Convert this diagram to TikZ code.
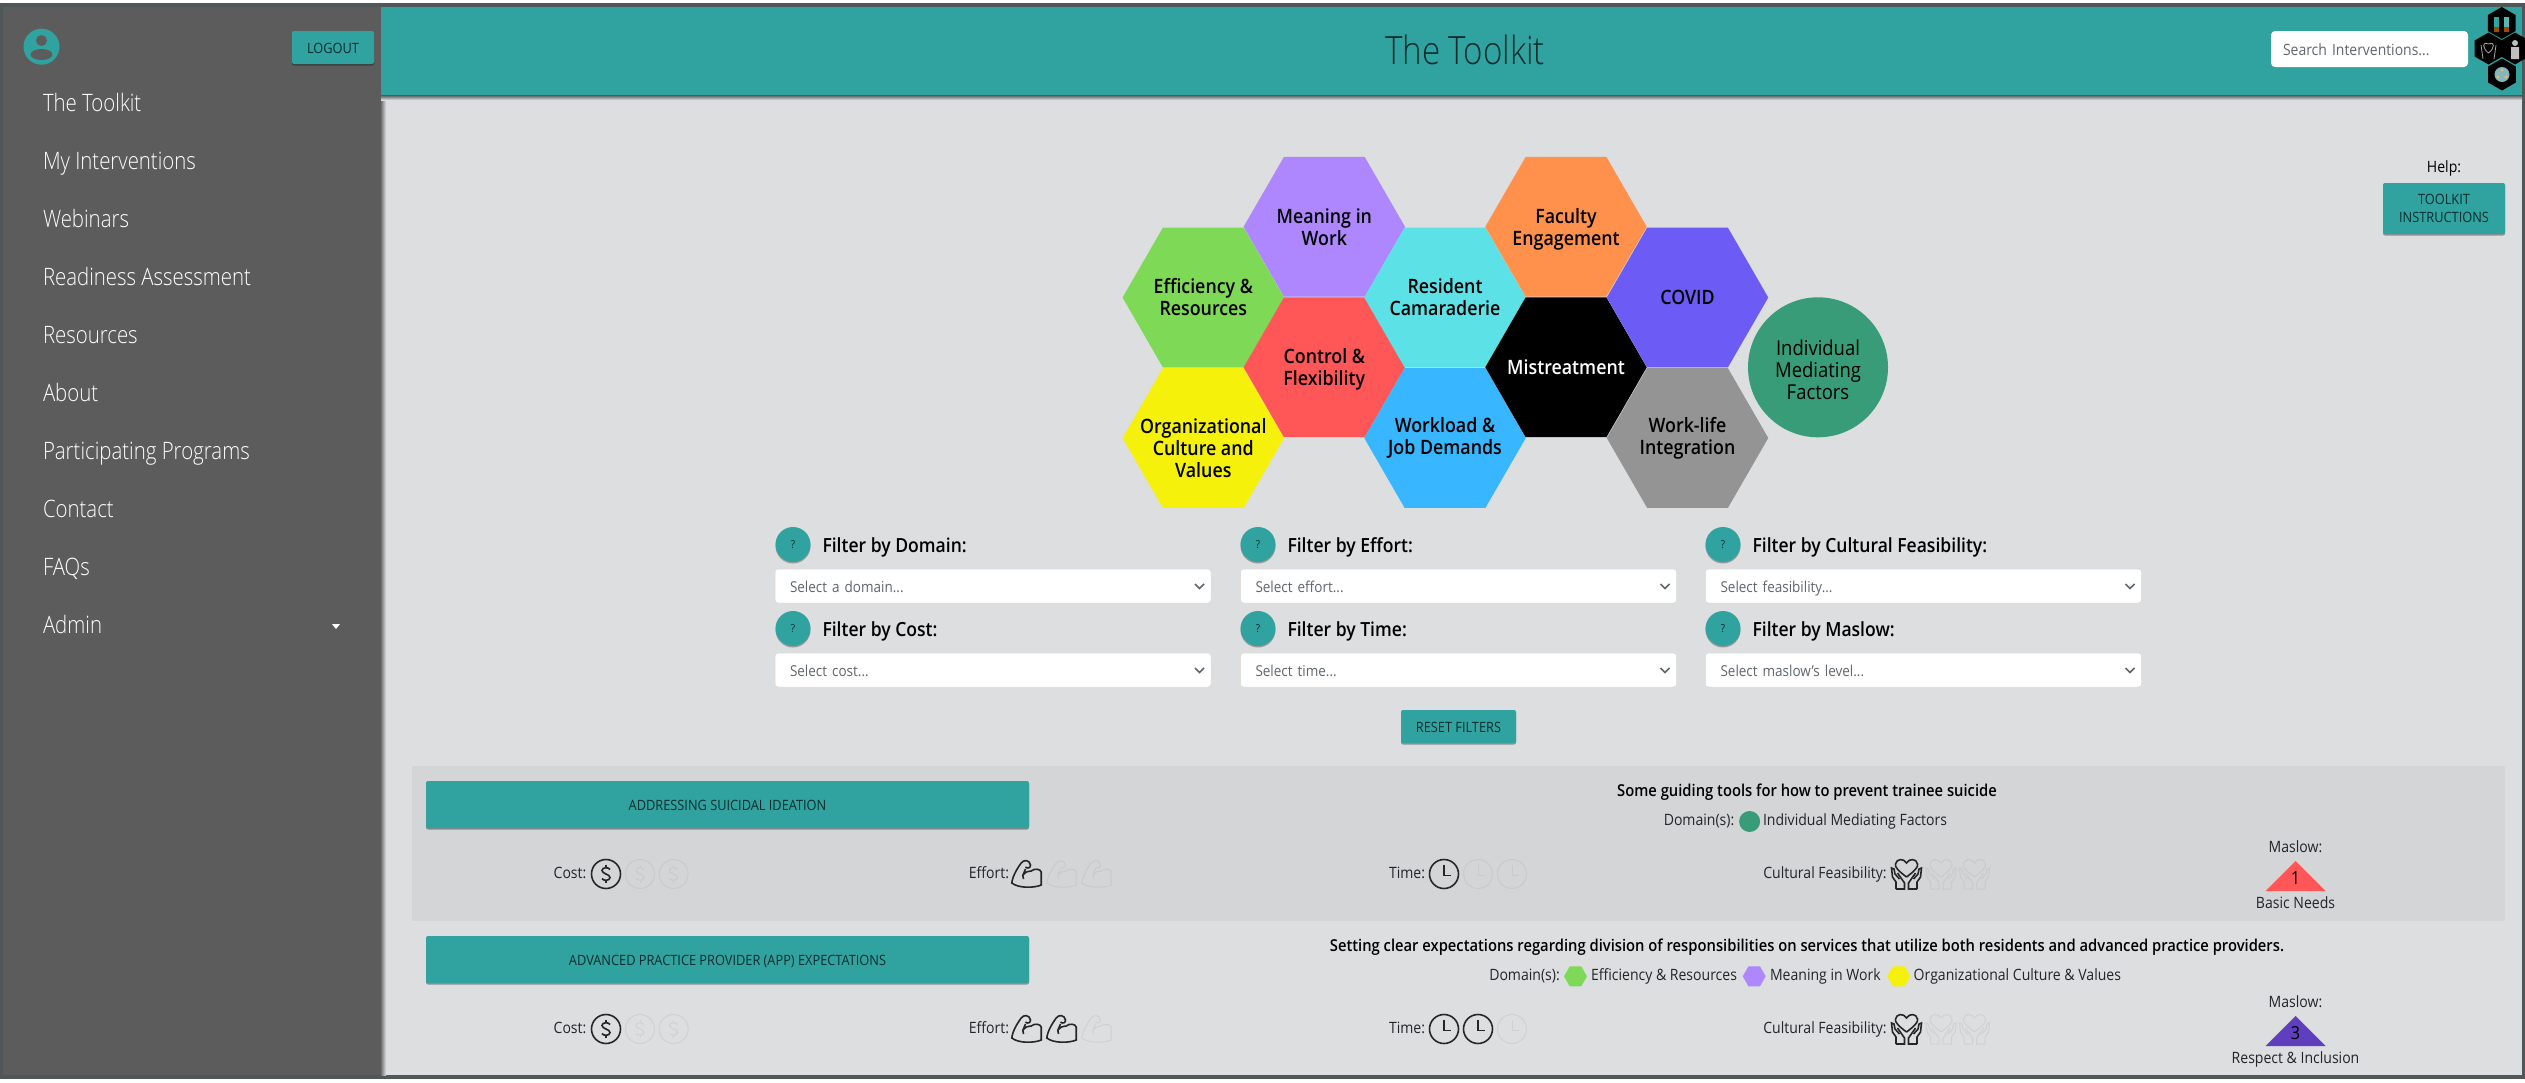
\documentclass[tikz,border=0pt]{standalone}
\usepackage{fontspec}
\setmainfont[FakeStretch=0.9]{Open Sans}
\newfontfamily\lightfont[FakeStretch=0.85]{Open Sans Light}
\newfontfamily\semifont[FakeStretch=0.9]{Open Sans Semibold}
\usetikzlibrary{positioning, shapes.geometric, shadows}
\definecolor{pagebg}{HTML}{DCDEE0}
\definecolor{rowbg}{HTML}{D3D5D7}
\definecolor{framedark}{HTML}{4F5759}
\definecolor{sidegray}{HTML}{5C5C5C}
\definecolor{tealbar}{HTML}{30A3A0}
\definecolor{inktext}{HTML}{212529}
\definecolor{btntext}{HTML}{0B2E2E}
\definecolor{hintgray}{HTML}{5F666C}
\definecolor{color1}{HTML}{AE87FF}
\definecolor{color2}{HTML}{7ED957}
\definecolor{color3}{HTML}{F5F10A}
\definecolor{color4}{HTML}{FF5757}
\definecolor{color5}{HTML}{5CE1E6}
\definecolor{color6}{HTML}{38B6FF}
\definecolor{color7}{HTML}{FF914D}
\definecolor{color8}{HTML}{6C5CF5}
\definecolor{color9}{HTML}{949494}
\definecolor{color10}{HTML}{389C79}
\definecolor{color11}{HTML}{5E3FBE}
\definecolor{offrow}{HTML}{C8CACC}
\definecolor{offplain}{HTML}{CFD1D3}

\begin{document}
\begin{tikzpicture}[x=1pt,y=-1pt,font=\fontsize{15.6}{20}\selectfont,inner sep=0,outer sep=0]

    \useasboundingbox (0,0) rectangle (2525,1082);

    \tikzset{
    % Hexagon cells of the domain map and the buttons
    domainhex/.style={regular polygon, regular polygon sides=6, minimum size=161.5, inner sep=-14pt, align=center, text=black, font=\semifont\fontsize{19.8}{22}\selectfont},
    smallhex/.style={regular polygon, regular polygon sides=6, minimum size=23},
    logohex/.style={regular polygon, regular polygon sides=6, shape border rotate=30, minimum size=32, fill=black},
    tealbtn/.style={rectangle, fill=tealbar, rounded corners=2, align=center, text=btntext, font=\fontsize{14.2}{18}\selectfont, drop shadow={shadow xshift=0pt, shadow yshift=-1.5pt, opacity=.35, fill=black}},
    oneline/.style={text height=12, text depth=0pt},
    sideitem/.style={anchor=west, text=white, text height=19, text depth=0pt, font=\lightfont\fontsize{24}{28}\selectfont},
    helpdot/.style={circle, fill=tealbar, minimum size=35, text=btntext, font=\fontsize{11}{12}\selectfont, drop shadow={shadow xshift=0pt, shadow yshift=-1.5pt, opacity=.3, fill=black}},
    filterlabel/.style={text=black, text height=15, text depth=0pt, font=\semifont\fontsize{19.5}{22}\selectfont},
    selectbox/.style={rectangle, fill=white, draw=black!15, line width=.5, rounded corners=3, minimum height=34, text height=13, text depth=0pt, text width=406, inner xsep=15, align=left, text=hintgray, font=\fontsize{15}{18}\selectfont},
    chevron/.style={draw=hintgray, line width=1.6},
    rowtext/.style={text=inktext, text height=11, text depth=0pt, font=\fontsize{15.6}{20}\selectfont},
    rowtitle/.style={text=black, text height=12, text depth=0pt, font=\semifont\fontsize{16.4}{20}\selectfont},
    % Icons of a row, drawn around their centre
    pics/costicon/.style={code={
        \draw[#1] (0,0) circle[radius=14.5];
        \draw[#1] (4,-4.5) .. controls (3,-7) and (-4,-7) .. (-4,-3.5) .. controls (-4,0) and (4,0) .. (4,3.5) .. controls (4,7) and (-3,7) .. (-4,4.5);
        \draw[#1] (0,-9) -- (0,-7) (0,7) -- (0,9);
    }},
    pics/efforticon/.style={code={
        \draw[#1] (-3.7,1.3) .. controls (-1,-2) and (2,-3.5) .. (4.7,-3) .. controls (8,-6) and (14,-5) .. (14.7,-2) -- (14.7,11) .. controls (8,14) and (-8,14.5) .. (-14.7,9) .. controls (-14,2) and (-9,-6) .. (-5.3,-11) .. controls (-3,-14.5) and (3,-14.5) .. (4,-9) .. controls (4,-6) and (1,-5) .. (-1,-7) (-1,-5) -- (-3.7,1.3) -- (-3,5);
    }},
    pics/timeicon/.style={code={
        \draw[#1] (0,0) circle[radius=14.5];
        \draw[#1] (0,-9) -- (0,1.5) -- (7,1.5);
    }},
    pics/careicon/.style={code={
        \draw[#1] (0,3) .. controls (-8,-3) and (-12,-7) .. (-11,-10) .. controls (-10,-15.5) and (-3,-16) .. (0,-11) .. controls (3,-16) and (10,-15.5) .. (11,-10) .. controls (12,-7) and (8,-3) .. (0,3);
        \draw[#1] (-10.5,15) -- (-10.5,8) -- (-14,3) -- (-15,-6) -- (-12.5,-5) -- (-11.5,0) -- (-7,5);
        \draw[#1] (10.5,15) -- (10.5,8) -- (14,3) -- (15,-6) -- (12.5,-5) -- (11.5,0) -- (7,5);
        \draw[#1] (-10.5,15) -- (-2,15) -- (-2,9) -- (-9,-1) (10.5,15) -- (2,15) -- (2,9) -- (9,-1);
    }},
    iconon/.style={draw=black!85, line width=1.6},
    iconoffa/.style={draw=offrow, line width=1},
    iconoffb/.style={draw=offplain, line width=1}
    }

    % Window frame, side bar and header
    \fill[framedark] (0,3) rectangle (2525,1079);
    \fill[pagebg] (3,7) rectangle (2522,1075);
    \shade[left color=black!55, right color=pagebg] (381,95) rectangle (386,1075);
    \shade[top color=framedark, bottom color=pagebg] (381,95) rectangle (2522,100);
    \fill[sidegray] (3,7) rectangle (381,1075);
    \fill[tealbar] (381,7) rectangle (2522,95);

    % Side bar
    \fill[tealbar] (41.5,46.7) circle[radius=18];
    \fill[sidegray] (41.5,40.5) circle[radius=5.5];
    \fill[sidegray] (41.5,54.5) ellipse[x radius=11, y radius=5.5];
    \node (logout) at (333,47.5)[tealbtn, oneline, minimum width=82, minimum height=33]{LOGOUT};

    \node (toolkit) at (43,102)[sideitem]{The Toolkit};
    \node (mine) at (43,160)[sideitem]{My Interventions};
    \node (webinars) at (43,218)[sideitem]{Webinars};
    \node (readiness) at (43,276)[sideitem]{Readiness Assessment};
    \node (resources) at (43,334)[sideitem]{Resources};
    \node (about) at (43,392)[sideitem]{About};
    \node (programs) at (43,450)[sideitem]{Participating Programs};
    \node (contact) at (43,508)[sideitem]{Contact};
    \node (faqs) at (43,566)[sideitem]{FAQs};
    \node (admin) at (43,624)[sideitem]{Admin};
    \fill[white] (332,624) -- (340,624) -- (336,629) -- cycle;

    % Header
    \node (title) at (1465,50)[text=btntext, font=\lightfont\fontsize{39}{42}\selectfont]{The Toolkit};
    \node (search) at (2369.5,49)[rectangle, fill=white, rounded corners=4, minimum height=36, text height=13, text depth=0pt, text width=173, inner xsep=12, align=left, text=hintgray, font=\fontsize{15.5}{18}\selectfont]{Search Interventions...};

    % Logo
    \node (logotop) at (2501.7,23)[logohex]{};
    \node (logoleft) at (2488.5,48.5)[logohex]{};
    \node (logoright) at (2515,48.5)[logohex]{};
    \node (logobottom) at (2502,74.5)[logohex]{};
    \fill[tealbar] (2494,17) rectangle (2499,27);
    \fill[tealbar!80!white] (2504,17) rectangle (2509,27);
    \fill[orange!60!black] (2494,27) rectangle (2499,32) (2504,27) rectangle (2509,32);
    \draw[black!35, line width=.8] (2488.5,53) .. controls (2482,48) and (2482,41) .. (2488.5,44) .. controls (2495,41) and (2495,48) .. (2488.5,53);
    \draw[black!35, line width=.8] (2483,59) -- (2481,45) (2494,59) -- (2496,45);
    \fill[black!25] (2515,43) circle[radius=3] (2511,47) rectangle (2519,59);
    \fill[color5!60!black!60!white] (2502,74.5) circle[radius=7.5];
    \fill[orange!60] (2502,70) circle[radius=1.6] (2498,77) circle[radius=1.6] (2506,77) circle[radius=1.6];

    % Help
    \node (helpbtn) at (2444,208.5)[tealbtn, minimum width=122, minimum height=51]{TOOLKIT\\INSTRUCTIONS};
    \node (helplabel) [above=7pt of helpbtn, text=black]{Help:};

    % Domain map
    \node (meaning) at (1324.3,226.8)[domainhex, fill=color1]{Meaning in\\Work};
    \node (efficiency) at (1203.3,297.5)[domainhex, fill=color2]{Efficiency \&\\Resources};
    \node (culture) at (1203.3,438)[domainhex, fill=color3]{\rule{0pt}{35pt}Organizational\\Culture and\\Values};
    \node (control) at (1324.3,367.3)[domainhex, fill=color4]{Control \&\\\smash{Flexibility}};
    \node (camaraderie) at (1445,297.5)[domainhex, fill=color5]{Resident\\Camaraderie};
    \node (workload) at (1445,438)[domainhex, fill=color6]{Workload \&\\Job Demands};
    \node (faculty) at (1566,226.8)[domainhex, fill=color7]{Faculty\\\smash{Engagement}};
    \node (mistreatment) at (1566,367.3)[domainhex, fill=black, text=white]{Mistreatment};
    \node (covid) at (1687.5,297.5)[domainhex, fill=color8]{COVID};
    \node (worklife) at (1687.5,438)[domainhex, fill=color9]{Work-life\\Integration};
    \node (individual) at (1818,367.3)[circle, minimum size=140, fill=color10, align=center, text=black, font=\fontsize{20.5}{22}\selectfont]{\rule{0pt}{20pt}Individual\\Mediating\\Factors};

    % Filters
    \node (qdomain) at (793,544.5)[helpdot]{?};
    \node (ldomain) [right=12pt of qdomain, filterlabel]{Filter by Domain:};
    \node (sdomain) at (993,586)[selectbox]{Select a domain...};
    \node (qcost) at (793,628.5)[helpdot]{?};
    \node (lcost) [right=12pt of qcost, filterlabel]{Filter by Cost:};
    \node (scost) at (993,670)[selectbox]{Select cost...};

    \node (qeffort) at (1258,544.5)[helpdot]{?};
    \node (leffort) [right=12pt of qeffort, filterlabel]{Filter by Effort:};
    \node (seffort) at (1458.5,586)[selectbox]{Select effort...};
    \node (qtime) at (1258,628.5)[helpdot]{?};
    \node (ltime) [right=12pt of qtime, filterlabel]{Filter by Time:};
    \node (stime) at (1458.5,670)[selectbox]{Select time...};

    \node (qfeasible) at (1723,544.5)[helpdot]{?};
    \node (lfeasible) [right=12pt of qfeasible, filterlabel]{Filter by Cultural Feasibility:};
    \node (sfeasible) at (1923.5,586)[selectbox]{Select feasibility...};
    \node (qmaslow) at (1723,628.5)[helpdot]{?};
    \node (lmaslow) [right=12pt of qmaslow, filterlabel]{Filter by Maslow:};
    \node (smaslow) at (1923.5,670)[selectbox]{Select maslow's level...};

    \draw[chevron] ([shift={(-16,-2)}]sdomain.east) -- ++(4.5,4.5) -- ++(4.5,-4.5);
    \draw[chevron] ([shift={(-16,-2)}]scost.east) -- ++(4.5,4.5) -- ++(4.5,-4.5);
    \draw[chevron] ([shift={(-16,-2)}]seffort.east) -- ++(4.5,4.5) -- ++(4.5,-4.5);
    \draw[chevron] ([shift={(-16,-2)}]stime.east) -- ++(4.5,4.5) -- ++(4.5,-4.5);
    \draw[chevron] ([shift={(-16,-2)}]sfeasible.east) -- ++(4.5,4.5) -- ++(4.5,-4.5);
    \draw[chevron] ([shift={(-16,-2)}]smaslow.east) -- ++(4.5,4.5) -- ++(4.5,-4.5);

    \node (reset) at (1458.5,726.5)[tealbtn, oneline, minimum width=115, minimum height=33]{RESET FILTERS};

    % First intervention
    \fill[rowbg] (412,766) rectangle (2505,921);
    \node (suicidal) at (727.5,804.5)[tealbtn, oneline, minimum width=603, minimum height=47]{ADDRESSING SUICIDAL IDEATION};
    \node (suicidaltext) at (1807,790)[rowtitle]{Some guiding tools for how to prevent trainee suicide};
    \node (domainsa) at (1699,820)[rowtext]{Domain(s):};
    \node (dotindividual) at (1749.6,821.5)[circle, minimum size=21, fill=color10]{};
    \node (nameindividual) at (1763,820)[rowtext, anchor=west]{Individual Mediating Factors};

    \node (costa) at (570,873)[rowtext]{Cost:};
    \pic at (606,874) {costicon=iconon};
    \pic at (640,874) {costicon=iconoffa};
    \pic at (673.6,874) {costicon=iconoffa};
    \node (efforta) at (989,873)[rowtext]{Effort:};
    \pic at (1026.5,874) {efforticon=iconon};
    \pic at (1061.5,874) {efforticon=iconoffa};
    \pic at (1096.5,874) {efforticon=iconoffa};
    \node (timea) at (1407,873)[rowtext]{Time:};
    \pic at (1444,874) {timeicon=iconon};
    \pic at (1478,874) {timeicon=iconoffa};
    \pic at (1512,874) {timeicon=iconoffa};
    \node (feasiblea) at (1825,873)[rowtext]{Cultural Feasibility:};
    \pic at (1906.5,874) {careicon=iconon};
    \pic at (1941,874) {careicon=iconoffa};
    \pic at (1974.5,874) {careicon=iconoffa};

    \node (maslowa) at (2295.5,847)[rowtext]{Maslow:};
    \fill[color4] (2295.5,861) -- (2325.5,891) -- (2265.5,891) -- cycle;
    \node (levela) at (2295.5,878)[text=black, font=\fontsize{18}{20}\selectfont]{1};
    \node (needa) at (2295.5,903)[rowtext]{Basic Needs};

    % Second intervention
    \node (practice) at (727.5,959.5)[tealbtn, oneline, minimum width=603, minimum height=47]{ADVANCED PRACTICE PROVIDER (APP) EXPECTATIONS};
    \node (practicetext) at (1807,945)[rowtitle]{Setting clear expectations regarding division of responsibilities on services that utilize both residents and advanced practice providers.};
    \node (domainsb) at (1524.5,975)[rowtext]{Domain(s):};
    \node (hexefficiency) at (1575.5,976.3)[smallhex, fill=color2]{};
    \node (nameefficiency) at (1591,975)[rowtext, anchor=west]{Efficiency \& Resources};
    \node (hexmeaning) at (1754.2,976.3)[smallhex, fill=color1]{};
    \node (namemeaning) at (1770,975)[rowtext, anchor=west]{Meaning in Work};
    \node (hexculture) at (1898.8,976.3)[smallhex, fill=color3]{};
    \node (nameculture) at (1913.7,975)[rowtext, anchor=west]{Organizational Culture \& Values};

    \node (costb) at (570,1028)[rowtext]{Cost:};
    \pic at (606,1029) {costicon=iconon};
    \pic at (640,1029) {costicon=iconoffb};
    \pic at (673.6,1029) {costicon=iconoffb};
    \node (effortb) at (989,1028)[rowtext]{Effort:};
    \pic at (1026.5,1029) {efforticon=iconon};
    \pic at (1061.5,1029) {efforticon=iconon};
    \pic at (1096.5,1029) {efforticon=iconoffb};
    \node (timeb) at (1407,1028)[rowtext]{Time:};
    \pic at (1444,1029) {timeicon=iconon};
    \pic at (1478,1029) {timeicon=iconon};
    \pic at (1512,1029) {timeicon=iconoffb};
    \node (feasibleb) at (1825,1028)[rowtext]{Cultural Feasibility:};
    \pic at (1906.5,1029) {careicon=iconon};
    \pic at (1941,1029) {careicon=iconoffb};
    \pic at (1974.5,1029) {careicon=iconoffb};

    \node (maslowb) at (2295.5,1002)[rowtext]{Maslow:};
    \fill[color11] (2295.5,1016) -- (2325.5,1046) -- (2265.5,1046) -- cycle;
    \node (levelb) at (2295.5,1033)[text=black, font=\fontsize{18}{20}\selectfont]{3};
    \node (needb) at (2295.5,1058)[rowtext]{Respect \& Inclusion};
\end{tikzpicture}
\end{document}
